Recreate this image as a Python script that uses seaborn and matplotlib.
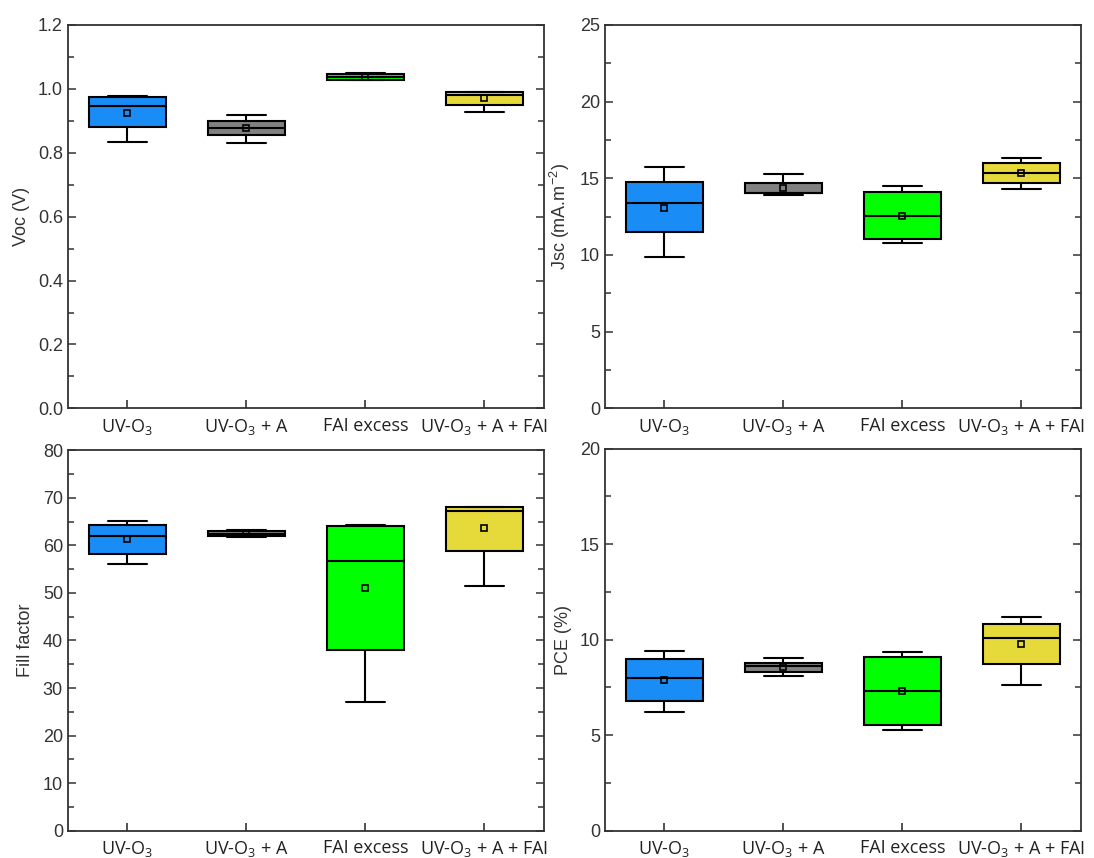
import numpy as np
import pandas as pd
import seaborn as sns
import matplotlib.pyplot as plt
from matplotlib.ticker import MultipleLocator

# amostras (grupos)
grupos = ['UV-O$_3$', 'UV-O$_3$ + A', 'FAI excess', 'UV-O$_3$ + A + FAI']
cores = ['#1a8cf5', '#808080', '#00ff00', '#e6d93a']

# estatisticas: [min, q1, mediana, q3, max] e media
voc_stats = [[0.834, 0.879, 0.947, 0.974, 0.978],
             [0.830, 0.855, 0.878, 0.900, 0.919],
             [1.026, 1.029, 1.037, 1.046, 1.049],
             [0.928, 0.950, 0.980, 0.989, 0.989]]
voc_media = [0.925, 0.878, 1.037, 0.971]

jsc_stats = [[9.87, 11.47, 13.42, 14.75, 15.76],
             [13.92, 14.01, 14.05, 14.69, 15.26],
             [10.75, 11.06, 12.52, 14.08, 14.49],
             [14.27, 14.69, 15.35, 16.02, 16.35]]
jsc_media = [13.09, 14.34, 12.57, 15.35]

ff_stats = [[56.0, 58.3, 62.05, 64.3, 65.1],
            [61.7, 61.9, 62.4, 62.96, 63.2],
            [27.1, 38.1, 56.7, 64.1, 64.35],
            [51.4, 58.8, 67.3, 68.2, 68.2]]
ff_media = [61.4, 62.4, 51.06, 63.65]

pce_stats = [[6.23, 6.78, 7.97, 9.01, 9.43],
             [8.09, 8.31, 8.63, 8.78, 9.03],
             [5.29, 5.55, 7.30, 9.10, 9.34],
             [7.63, 8.73, 10.10, 10.82, 11.2]]
pce_media = [7.88, 8.59, 7.30, 9.76]

sns.set_style('white')
plt.rcParams['font.family'] = ['Liberation Sans', 'DejaVu Sans']
plt.rcParams['mathtext.fontset'] = 'custom'
plt.rcParams['mathtext.rm'] = 'Open Sans'
plt.rcParams['mathtext.default'] = 'regular'

fig = plt.figure(figsize=(10.94, 8.58), dpi=100)
posicoes = [[0.062, 0.524, 0.435, 0.447],
            [0.553, 0.524, 0.435, 0.447],
            [0.062, 0.032, 0.435, 0.443],
            [0.553, 0.032, 0.435, 0.445]]

paineis = [(voc_stats, voc_media, 'Voc (V)', 1.2, 0.2),
           (jsc_stats, jsc_media, 'Jsc (mA.m$^{-2}$)', 25, 5),
           (ff_stats, ff_media, 'Fill factor', 80, 10),
           (pce_stats, pce_media, 'PCE (%)', 20, 5)]

for pos, (stats, media, rotulo, ymax, passo) in zip(posicoes, paineis):
    ax = fig.add_axes(pos)
    df = pd.DataFrame({'grupo': np.repeat(grupos, 5), 'valor': np.concatenate(stats)})
    sns.boxplot(data=df, x='grupo', y='valor', hue='grupo', palette=cores, order=grupos,
                whis=(0, 100), width=0.65, linecolor='black', linewidth=1.5,
                saturation=1, legend=False, ax=ax)
    sns.pointplot(x=grupos, y=media, order=grupos, color='black', marker='s',
                  markersize=4, linestyle='none', markerfacecolor='none',
                  markeredgewidth=1.2, errorbar=None, ax=ax)
    ax.set_xlim(-0.5, 3.5)
    ax.set_ylim(0, ymax)
    ax.yaxis.set_major_locator(MultipleLocator(passo))
    ax.yaxis.set_minor_locator(MultipleLocator(passo / 2))
    if ymax == 1.2:
        ax.set_yticklabels(['%.1f' % t for t in ax.get_yticks()])
    ax.set_xlabel('')
    ax.set_ylabel(rotulo, fontsize=13, color='#333333', labelpad=6)
    ax.set_xticks(range(4))
    ax.set_xticklabels(grupos, fontsize=13, family=['Open Sans', 'DejaVu Sans'])
    ax.tick_params(axis='y', which='both', direction='in', left=True, right=True,
                   labelsize=13, colors='#333333', width=1.1)
    ax.tick_params(axis='y', which='major', length=6)
    ax.tick_params(axis='y', which='minor', length=4)
    ax.tick_params(axis='x', direction='in', bottom=True, length=6, width=1.1,
                   labelsize=13, colors='#222222', pad=6)
    for s in ax.spines.values():
        s.set_color('#333333')
        s.set_linewidth(1.3)

plt.savefig('out.png', dpi=100)
